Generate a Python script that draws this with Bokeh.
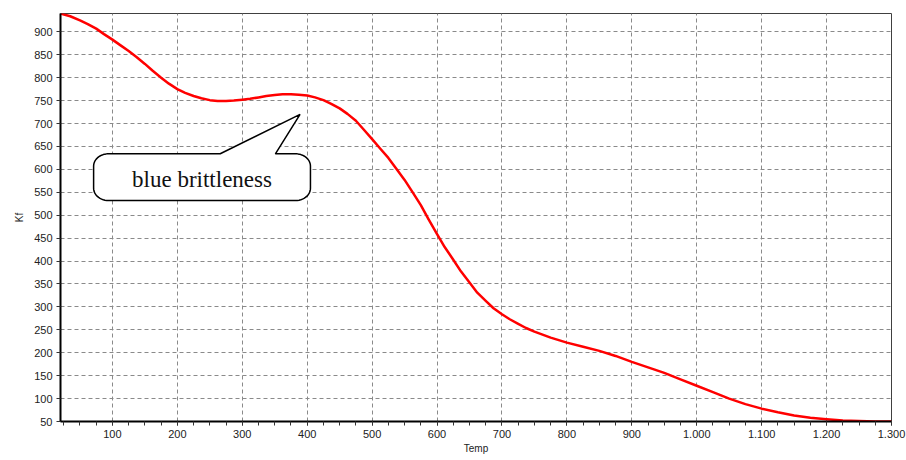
import numpy as np
from bokeh.plotting import figure
from bokeh.models import Range1d, Label, FixedTicker
from bokeh.embed import file_html
from bokeh.resources import INLINE

# ---- data ----
temp = [20, 35, 50, 62, 75, 87, 100, 112, 125, 137, 150, 162, 175, 187, 200,
        212, 225, 237, 250, 262, 275, 287, 300, 312, 325, 337, 350, 362, 375,
        387, 400, 412, 425, 437, 450, 462, 475, 487, 500, 512, 525, 537, 550,
        562, 575, 587, 600, 612, 625, 637, 650, 662, 675, 687, 700, 712, 725,
        737, 750, 775, 800, 825, 850, 875, 900, 925, 950, 975, 1000, 1025,
        1050, 1075, 1100, 1125, 1150, 1175, 1200, 1225, 1250, 1275, 1300]
kf = [940, 934, 925, 917, 907, 895, 883, 871, 858, 845, 830, 815, 800, 787, 775,
      767, 760, 755, 751, 749, 749, 750, 752, 754, 757, 760, 762, 764, 764,
      763, 761, 757, 751, 743, 733, 721, 706, 687, 666, 646, 625, 602, 577,
      551, 522, 491, 459, 430, 403, 377, 353, 331, 313, 297, 284, 273, 263,
      254, 246, 233, 222, 213, 204, 193, 180, 168, 156, 142, 128, 114,
      100, 88, 78, 70, 63, 58, 55, 52, 51, 50, 50]

x_ticks = [100, 200, 300, 400, 500, 600, 700, 800, 900, 1000, 1100, 1200, 1300]
x_tick_labels = ["100", "200", "300", "400", "500", "600", "700", "800", "900",
                 "1.000", "1.100", "1.200", "1.300"]
y_ticks = [50, 100, 150, 200, 250, 300, 350, 400, 450, 500, 550, 600, 650, 700,
           750, 800, 850, 900]

annotation_text = "blue brittleness"

# ---- figure ----
p = figure(width=906, height=460, output_backend="svg", toolbar_location=None,
           x_range=Range1d(20, 1300), y_range=Range1d(50, 940),
           min_border_left=60, min_border_right=15, min_border_top=13,
           min_border_bottom=39)
p.background_fill_color = "white"
p.border_fill_color = "white"
p.outline_line_color = "#404040"
p.outline_line_width = 1

# grids
p.xgrid.ticker = FixedTicker(ticks=x_ticks)
p.ygrid.ticker = FixedTicker(ticks=y_ticks)
for g in (p.xgrid, p.ygrid):
    g.grid_line_color = "#8a8a8a"
    g.grid_line_dash = "4 3"
    g.grid_line_width = 1

# x axis
xa = p.xaxis[0]
xa.ticker = FixedTicker(ticks=x_ticks,
                        minor_ticks=list(range(25, 1301, 25)))
xa.major_label_overrides = {t: l for t, l in zip(x_ticks, x_tick_labels)}
xa.axis_label = "Temp"
xa.axis_line_color = "black"
xa.axis_line_width = 2
xa.major_tick_line_color = "#333333"
xa.minor_tick_line_color = "#333333"
xa.major_tick_out = 4
xa.major_tick_in = 0
xa.minor_tick_out = 4
xa.minor_tick_in = 0
xa.major_label_standoff = 4
xa.axis_label_standoff = 2

# y axis
ya = p.yaxis[0]
ya.ticker = FixedTicker(ticks=y_ticks)
ya.axis_label = "Kf"
ya.axis_line_color = "black"
ya.axis_line_width = 2
ya.major_tick_line_color = "#333333"
ya.minor_tick_line_color = None
ya.major_tick_out = 4
ya.major_tick_in = 0
ya.major_label_standoff = 4
ya.axis_label_standoff = 6

for ax in (xa, ya):
    ax.major_label_text_font = "Liberation Sans"
    ax.major_label_text_font_size = "11px"
    ax.major_label_text_color = "#222222"
    ax.axis_label_text_font = "Liberation Sans"
    ax.axis_label_text_font_size = "10px"
    ax.axis_label_text_font_style = "normal"
    ax.axis_label_text_color = "#222222"

# curve
p.line(temp, kf, line_color="#ff0000", line_width=2.5, line_join="round")

# ---- callout bubble (annotation geometry in data units) ----
L, R, T, B = 71, 405, 634, 532
rx, ry = 23, 27
tail_a, tail_b = 266, 351
tip = (389, 720)


def arc(cx, cy, a0, a1, n=14):
    a = np.linspace(np.radians(a0), np.radians(a1), n)
    return list(cx + rx * np.cos(a)), list(cy + ry * np.sin(a))


bx, by = [tail_a, tip[0], tail_b], [T, tip[1], T]
for cx, cy, a0, a1 in [(R - rx, T - ry, 90, 0), (R - rx, B + ry, 0, -90),
                       (L + rx, B + ry, -90, -180), (L + rx, T - ry, 180, 90)]:
    ax_, ay_ = arc(cx, cy, a0, a1)
    bx += ax_
    by += ay_
bx.append(tail_a)
by.append(T)
p.patch(bx, by, fill_color="white", line_color="black", line_width=1.5)

p.add_layout(Label(x=238, y=578, text=annotation_text, text_align="center",
                   text_baseline="middle", text_font="Liberation Serif",
                   text_font_size="23px", text_color="#111111"))

open("out.html", "w").write(file_html(p, INLINE))
